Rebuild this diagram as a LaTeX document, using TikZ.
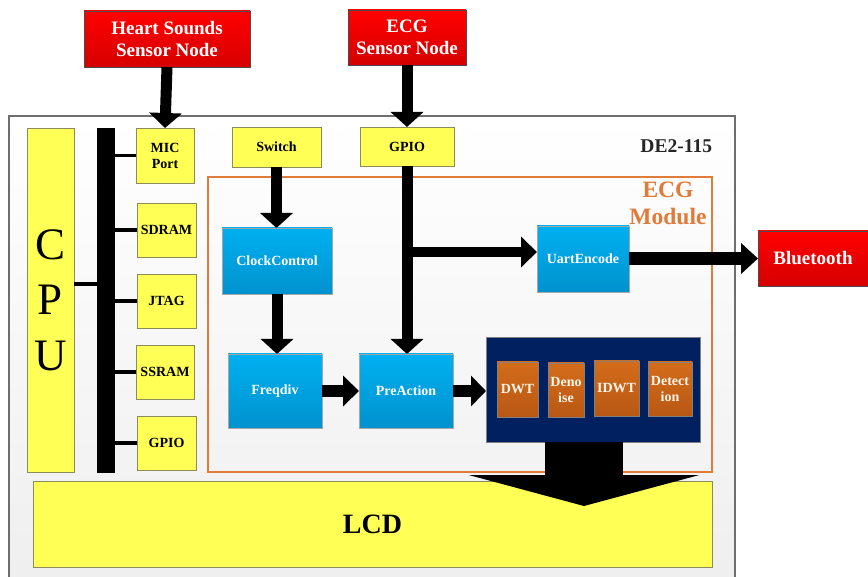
\documentclass[tikz,border=0pt]{standalone}
\usepackage{fontspec}
\setmainfont{Liberation Serif}
\usetikzlibrary{arrows.meta}

\definecolor{padyellow}{HTML}{FFFF55}
\definecolor{padedge}{HTML}{8C8C5A}
\definecolor{ipblue}{HTML}{00B0F0}
\definecolor{ipbluedark}{HTML}{0092CE}
\definecolor{sensred}{HTML}{FF0000}
\definecolor{sensreddark}{HTML}{D60000}
\definecolor{dspnavy}{HTML}{002060}
\definecolor{stageorange}{HTML}{D46C1A}
\definecolor{stageorangedark}{HTML}{B85814}
\definecolor{moduleorange}{HTML}{E07B39}
\definecolor{boardgray}{HTML}{6E6E6E}

% \placebox{name}{style}{x1}{y1}{x2}{y2}{text}: box given by its corners
\newcommand\placebox[7]{%
  \node[#2, minimum width={(#5-#3)*1pt}, minimum height={(#6-#4)*1pt}]
    (#1) at ({(#3+#5)/2},{(#4+#6)/2}) {#7};}

\tikzset{
  every node/.style={inner sep=0pt, outer sep=0pt},
  yelbox/.style={draw=padedge, line width=0.8pt, fill=padyellow, align=center,
    font=\fontsize{14}{16}\selectfont\bfseries},
  bluebox/.style={draw=gray!70, line width=0.6pt, top color=ipblue,
    bottom color=ipbluedark, text=white, align=center,
    font=\fontsize{14}{15.5}\selectfont\bfseries},
  redbox/.style={draw=gray!60!black, line width=0.8pt, top color=sensred,
    bottom color=sensreddark, text=white, align=center,
    font=\fontsize{19}{21.5}\selectfont\bfseries},
  stagebox/.style={draw=gray, line width=0.5pt, top color=stageorange,
    bottom color=stageorangedark, text=white!92!orange, align=center,
    font=\fontsize{14}{16}\selectfont\bfseries},
  fatarrow/.style={line width=11pt, -{Triangle[width=32pt,length=15pt]}},
  busline/.style={line width=3.5pt},
}

\begin{document}
\begin{tikzpicture}[x=1pt, y=-1pt]
\useasboundingbox (0,0) rectangle (868,577);

% DE2-115 board
\placebox{board}{draw=boardgray, line width=1.6pt, top color=white, bottom color=gray!13}{9}{116}{735}{590}{}
\node[anchor=east, font=\fontsize{19.5}{21}\selectfont\bfseries, text=black!85] (boardname) at (712,146) {DE2-115};

% ECG module frame
\placebox{ecgmod}{draw=moduleorange, line width=1.5pt}{208}{177}{712}{472}{}
\node[align=center, text=moduleorange, font=\fontsize{23.5}{27}\selectfont\bfseries] (modname) at (668,203) {ECG\\Module};

% external sensor nodes and radio
\placebox{hs}{redbox}{84}{11}{250}{67}{Heart Sounds\\Sensor Node}
\placebox{ecgs}{redbox}{348}{10}{466}{65}{ECG\\Sensor Node}
\placebox{bt}{redbox}{758}{231}{868}{286}{Bluetooth}

% CPU, bus and peripherals
\placebox{cpu}{yelbox, font=\fontsize{45}{55.5}\selectfont}{27}{128}{74}{472}{C\\P\\U}
\placebox{bus}{fill=black}{97}{128}{115}{473}{}
\placebox{mic}{yelbox}{136}{128}{194}{183}{MIC\\Port}
\placebox{sdram}{yelbox}{137}{203}{196}{257}{SDRAM}
\placebox{jtag}{yelbox}{137}{274}{196}{328}{JTAG}
\placebox{ssram}{yelbox}{136}{345}{194}{399}{SSRAM}
\placebox{gpioa}{yelbox}{137}{416}{196}{470}{GPIO}
\placebox{switch}{yelbox}{232}{127}{321}{167}{Switch}
\placebox{gpiob}{yelbox}{360}{127}{454}{166}{GPIO}

\draw[busline] ([yshift=16pt]cpu.east) -- ([yshift=16pt]cpu.east -| bus.west);
\foreach \p in {mic,sdram,jtag,ssram,gpioa}
  \draw[busline] (\p.west) -- (\p.west -| bus.center);

% ECG module blocks
\placebox{clk}{bluebox}{222}{228}{332}{294}{ClockControl}
\placebox{freq}{bluebox}{228}{354}{322}{428}{Freqdiv}
\placebox{pre}{bluebox}{359}{354}{453}{428}{PreAction}
\placebox{uart}{bluebox}{537}{226}{629}{292}{UartEncode}
\placebox{dsp}{draw=gray, line width=0.6pt, fill=dspnavy}{486}{337}{700}{442}{}
\placebox{dwt}{stagebox}{497}{362}{538}{417}{DWT}
\placebox{den}{stagebox}{548}{363}{584}{417}{Deno\\ise}
\placebox{idwt}{stagebox}{594}{361}{639}{416}{IDWT}
\placebox{det}{stagebox}{648}{362}{692}{416}{Detect\\ion}

% LCD
\placebox{lcd}{yelbox, font=\fontsize{28}{30}\selectfont\bfseries}{33}{481}{712}{567}{LCD}

% data flow
\draw[fatarrow] (hs.south) -- (mic.north);
\draw[fatarrow] (ecgs.south) -- (gpiob.north);
\draw[fatarrow] (switch.south) -- (switch.south |- clk.north);
\draw[fatarrow] (clk.south) -- (clk.south |- freq.north);
\draw[fatarrow] (gpiob.south) -- (gpiob.south |- pre.north);
\coordinate (split) at (407,252);
\draw[fatarrow, line width=10pt, -{Triangle[width=30pt,length=16pt]}] (split) -- (split -| uart.west);
\draw[fatarrow, line width=13pt, -{Triangle[width=30pt,length=17pt]}] (uart.east |- bt.west) -- (bt.west);
\draw[fatarrow, line width=12pt, -{Triangle[width=30pt,length=16pt]}] (freq.east) -- (pre.west);
\draw[fatarrow, line width=12pt, -{Triangle[width=30pt,length=15pt]}] (pre.east) -- (pre.east -| dsp.west);

% wide arrow from the DSP chain onto the LCD
\coordinate (lcdtip) at (584,506);
\draw[line width=78pt, -{Triangle[width=230pt,length=31pt]}] (dsp.south -| lcdtip) -- (lcdtip);
\end{tikzpicture}
\end{document}
